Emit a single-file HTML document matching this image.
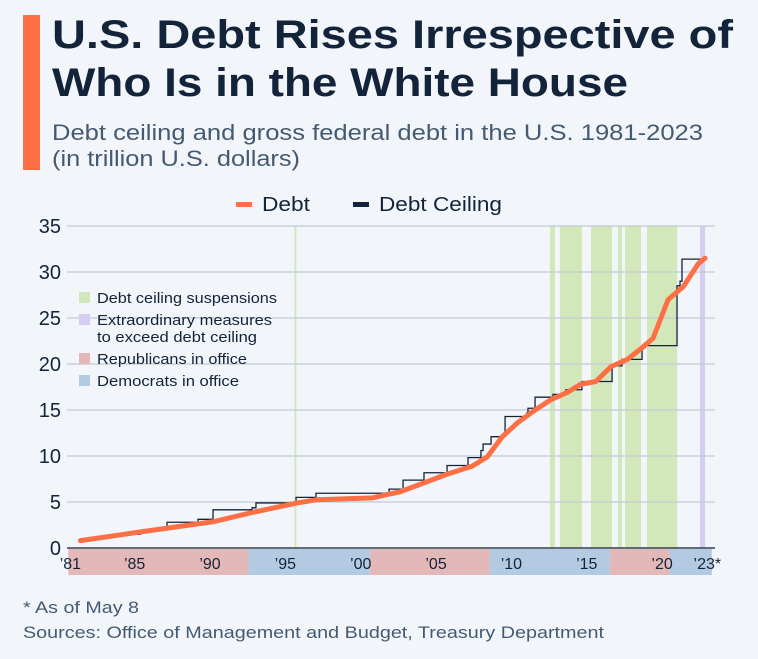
<!DOCTYPE html>
<html><head><meta charset="utf-8"><style>
html,body{margin:0;padding:0;background:#f2f6fa;}
svg{display:block;font-family:"Liberation Sans",sans-serif;}
</style></head><body>
<svg id="chart" width="758" height="659" viewBox="0 0 758 659">
<rect width="758" height="659" fill="#f2f6fa"/>
<rect x="23" y="15" width="17" height="155" fill="#ff6f45"/>
<text x="52" y="48" font-size="40" font-weight="bold" fill="#13233a" textLength="681" lengthAdjust="spacingAndGlyphs">U.S. Debt Rises Irrespective of</text>
<text x="52" y="96" font-size="40" font-weight="bold" fill="#13233a" textLength="576" lengthAdjust="spacingAndGlyphs">Who Is in the White House</text>
<text x="52" y="140" font-size="22" fill="#445a72" textLength="651" lengthAdjust="spacingAndGlyphs">Debt ceiling and gross federal debt in the U.S. 1981-2023</text>
<text x="52" y="166" font-size="22" fill="#445a72" textLength="248" lengthAdjust="spacingAndGlyphs">(in trillion U.S. dollars)</text>
<g>
<rect x="236" y="202" width="16" height="5" fill="#ff6f45"/>
<text x="262" y="211" font-size="20" fill="#13233a" textLength="48" lengthAdjust="spacingAndGlyphs">Debt</text>
<rect x="353" y="202" width="16" height="5" fill="#13233a"/>
<text x="379" y="211" font-size="20" fill="#13233a" textLength="123" lengthAdjust="spacingAndGlyphs">Debt Ceiling</text>
</g>
<g id="bands"></g><g id="grid"></g><g id="series"></g><g id="axes"></g>
<g font-size="14.5" fill="#13233a">
<rect x="79" y="292" width="11" height="11" fill="#d3e8ba"/><text x="97" y="303" textLength="180" lengthAdjust="spacingAndGlyphs">Debt ceiling suspensions</text>
<rect x="79" y="314" width="11" height="11" fill="#d6cdf2"/><text x="97" y="325" textLength="175" lengthAdjust="spacingAndGlyphs">Extraordinary measures</text>
<text x="97" y="342" textLength="160" lengthAdjust="spacingAndGlyphs">to exceed debt ceiling</text>
<rect x="79" y="353" width="11" height="11" fill="#e3b8b9"/><text x="97" y="364" textLength="150" lengthAdjust="spacingAndGlyphs">Republicans in office</text>
<rect x="79" y="375" width="11" height="11" fill="#b3cbe2"/><text x="97" y="386" textLength="142" lengthAdjust="spacingAndGlyphs">Democrats in office</text>
</g>
<text x="23" y="613" font-size="17" fill="#445a72" textLength="116" lengthAdjust="spacingAndGlyphs">* As of May 8</text>
<text x="23" y="638" font-size="17" fill="#445a72" textLength="581" lengthAdjust="spacingAndGlyphs">Sources: Office of Management and Budget, Treasury Department</text>
</svg>
<script>
const yTicks = [0,5,10,15,20,25,30,35];
const xTickYears = [1981,1985,1990,1995,2000,2005,2010,2015,2020,2023];
const xTickLabels = ["’81","’85","’90","’95","’00","’05","’10","’15","’20","’23*"];
const partyStarts = [1980.6,1992.55,2000.6,2008.57,2016.55,2020.5];
const partyEnds = [1992.55,2000.6,2008.57,2016.55,2020.5,2023.3];
const partyNames = ["R","D","R","D","R","D"];
const suspStart = [1995.6,2012.56,2013.22,2015.28,2017.07,2017.54,2019.0];
const suspEnd = [1995.73,2012.89,2014.68,2016.68,2017.34,2018.6,2021.0];
const extraStart = [2022.51];
const extraEnd = [2022.85];
const debtYears = [1981.4,1985.4,1990.2,1992.9,1995.8,1997.1,2000.8,2001.7,2002.6,2005.7,2007.4,2008.4,2009.4,2010.4,2011.4,2012.6,2013.7,2014.6,2015.6,2016.6,2017.7,2018.7,2019.4,2020.4,2021.4,2022.4,2022.85];
const debtValues = [0.8,1.75,2.85,3.9,4.9,5.25,5.45,5.8,6.1,8.0,8.9,9.9,12.1,13.6,14.8,16.1,16.9,17.8,18.1,19.7,20.5,21.8,22.8,27.0,28.4,30.9,31.5];
const ceilYears = [1981.37,1982.04,1982.9,1984.16,1985.35,1986.2,1987.15,1989.2,1990.2,1992.79,1993.05,1995.71,1997.03,2001.88,2002.81,2004.2,2005.73,2007.12,2007.98,2008.12,2008.65,2009.58,2011.04,2011.1,2011.57,2012.76,2013.62,2014.68,2016.68,2017.34,2018.67,2020.99,2021.19,2021.32];
const ceilValues = [0.99,1.14,1.29,1.49,1.82,2.08,2.8,3.12,4.15,4.37,4.9,5.5,5.95,6.4,7.38,8.18,8.97,9.82,10.6,11.3,12.1,14.29,14.7,15.19,16.39,16.7,17.2,18.1,19.8,20.5,22.0,28.5,29.0,31.4];
const ceilEnd = 2022.85;

const NS="http://www.w3.org/2000/svg";
const X = y => 210 + (y-1990)*15.07;
const Y = v => 548 - v*(322/35);
const x0=67, x1=715;
function mk(tag, attrs, parent, text){const e=document.createElementNS(NS,tag);for(const k in attrs)e.setAttribute(k,attrs[k]);if(text!==undefined)e.textContent=text;document.getElementById(parent).appendChild(e);return e;}

for(let i=0;i<partyStarts.length;i++){
  const a=Math.max(x0,X(partyStarts[i])), b=Math.min(x1,X(partyEnds[i]));
  const r=mk('rect',{x:a,y:549,width:b-a,height:26,fill:partyNames[i]==="R"?"#e3b8b9":"#b3cbe2"},'bands');
  
  
}
for(let i=0;i<suspStart.length;i++){
  const r=mk('rect',{x:X(suspStart[i]),y:226,width:Math.max(2,X(suspEnd[i])-X(suspStart[i])),height:322,fill:"#d3e8ba"},'bands');
  
  
}
for(let i=0;i<extraStart.length;i++){
  const r=mk('rect',{x:X(extraStart[i]),y:226,width:X(extraEnd[i])-X(extraStart[i]),height:322,fill:"#d6cdf2"},'bands');
  
  
}
yTicks.forEach(t=>{
  const l=mk('line',{x1:x0,x2:x1,y1:Y(t),y2:Y(t),stroke:t===0?"#333f4d":"#c3cad3","stroke-width":t===0?1.5:1.2},'grid');
  
  
  const tx=mk('text',{x:61,y:Y(t)+7,"font-size":20,fill:"#13233a","text-anchor":"end"},'axes',String(t));
  
  
});
xTickYears.forEach((yr,i)=>{
  const tx=mk('text',{x:X(yr)-(i===0?4:0),y:569,"font-size":16,fill:"#13233a","text-anchor":"middle"},'axes',xTickLabels[i]);
  
  
});
let d="M"+X(ceilYears[0])+","+Y(ceilValues[0]);
for(let i=1;i<ceilYears.length;i++){d+=" H"+X(ceilYears[i])+" V"+Y(ceilValues[i]);}
d+=" H"+X(ceilEnd);
const cl=mk('path',{d:d,fill:"none",stroke:"#13233a","stroke-width":1.3},'series');


const pd=debtYears.map((yr,i)=>(i?"L":"M")+X(yr)+","+Y(debtValues[i])).join(" ");
const dl=mk('path',{d:pd,fill:"none",stroke:"#ff6f45","stroke-width":5,"stroke-linejoin":"round","stroke-linecap":"round"},'series');


</script>
</body></html>
